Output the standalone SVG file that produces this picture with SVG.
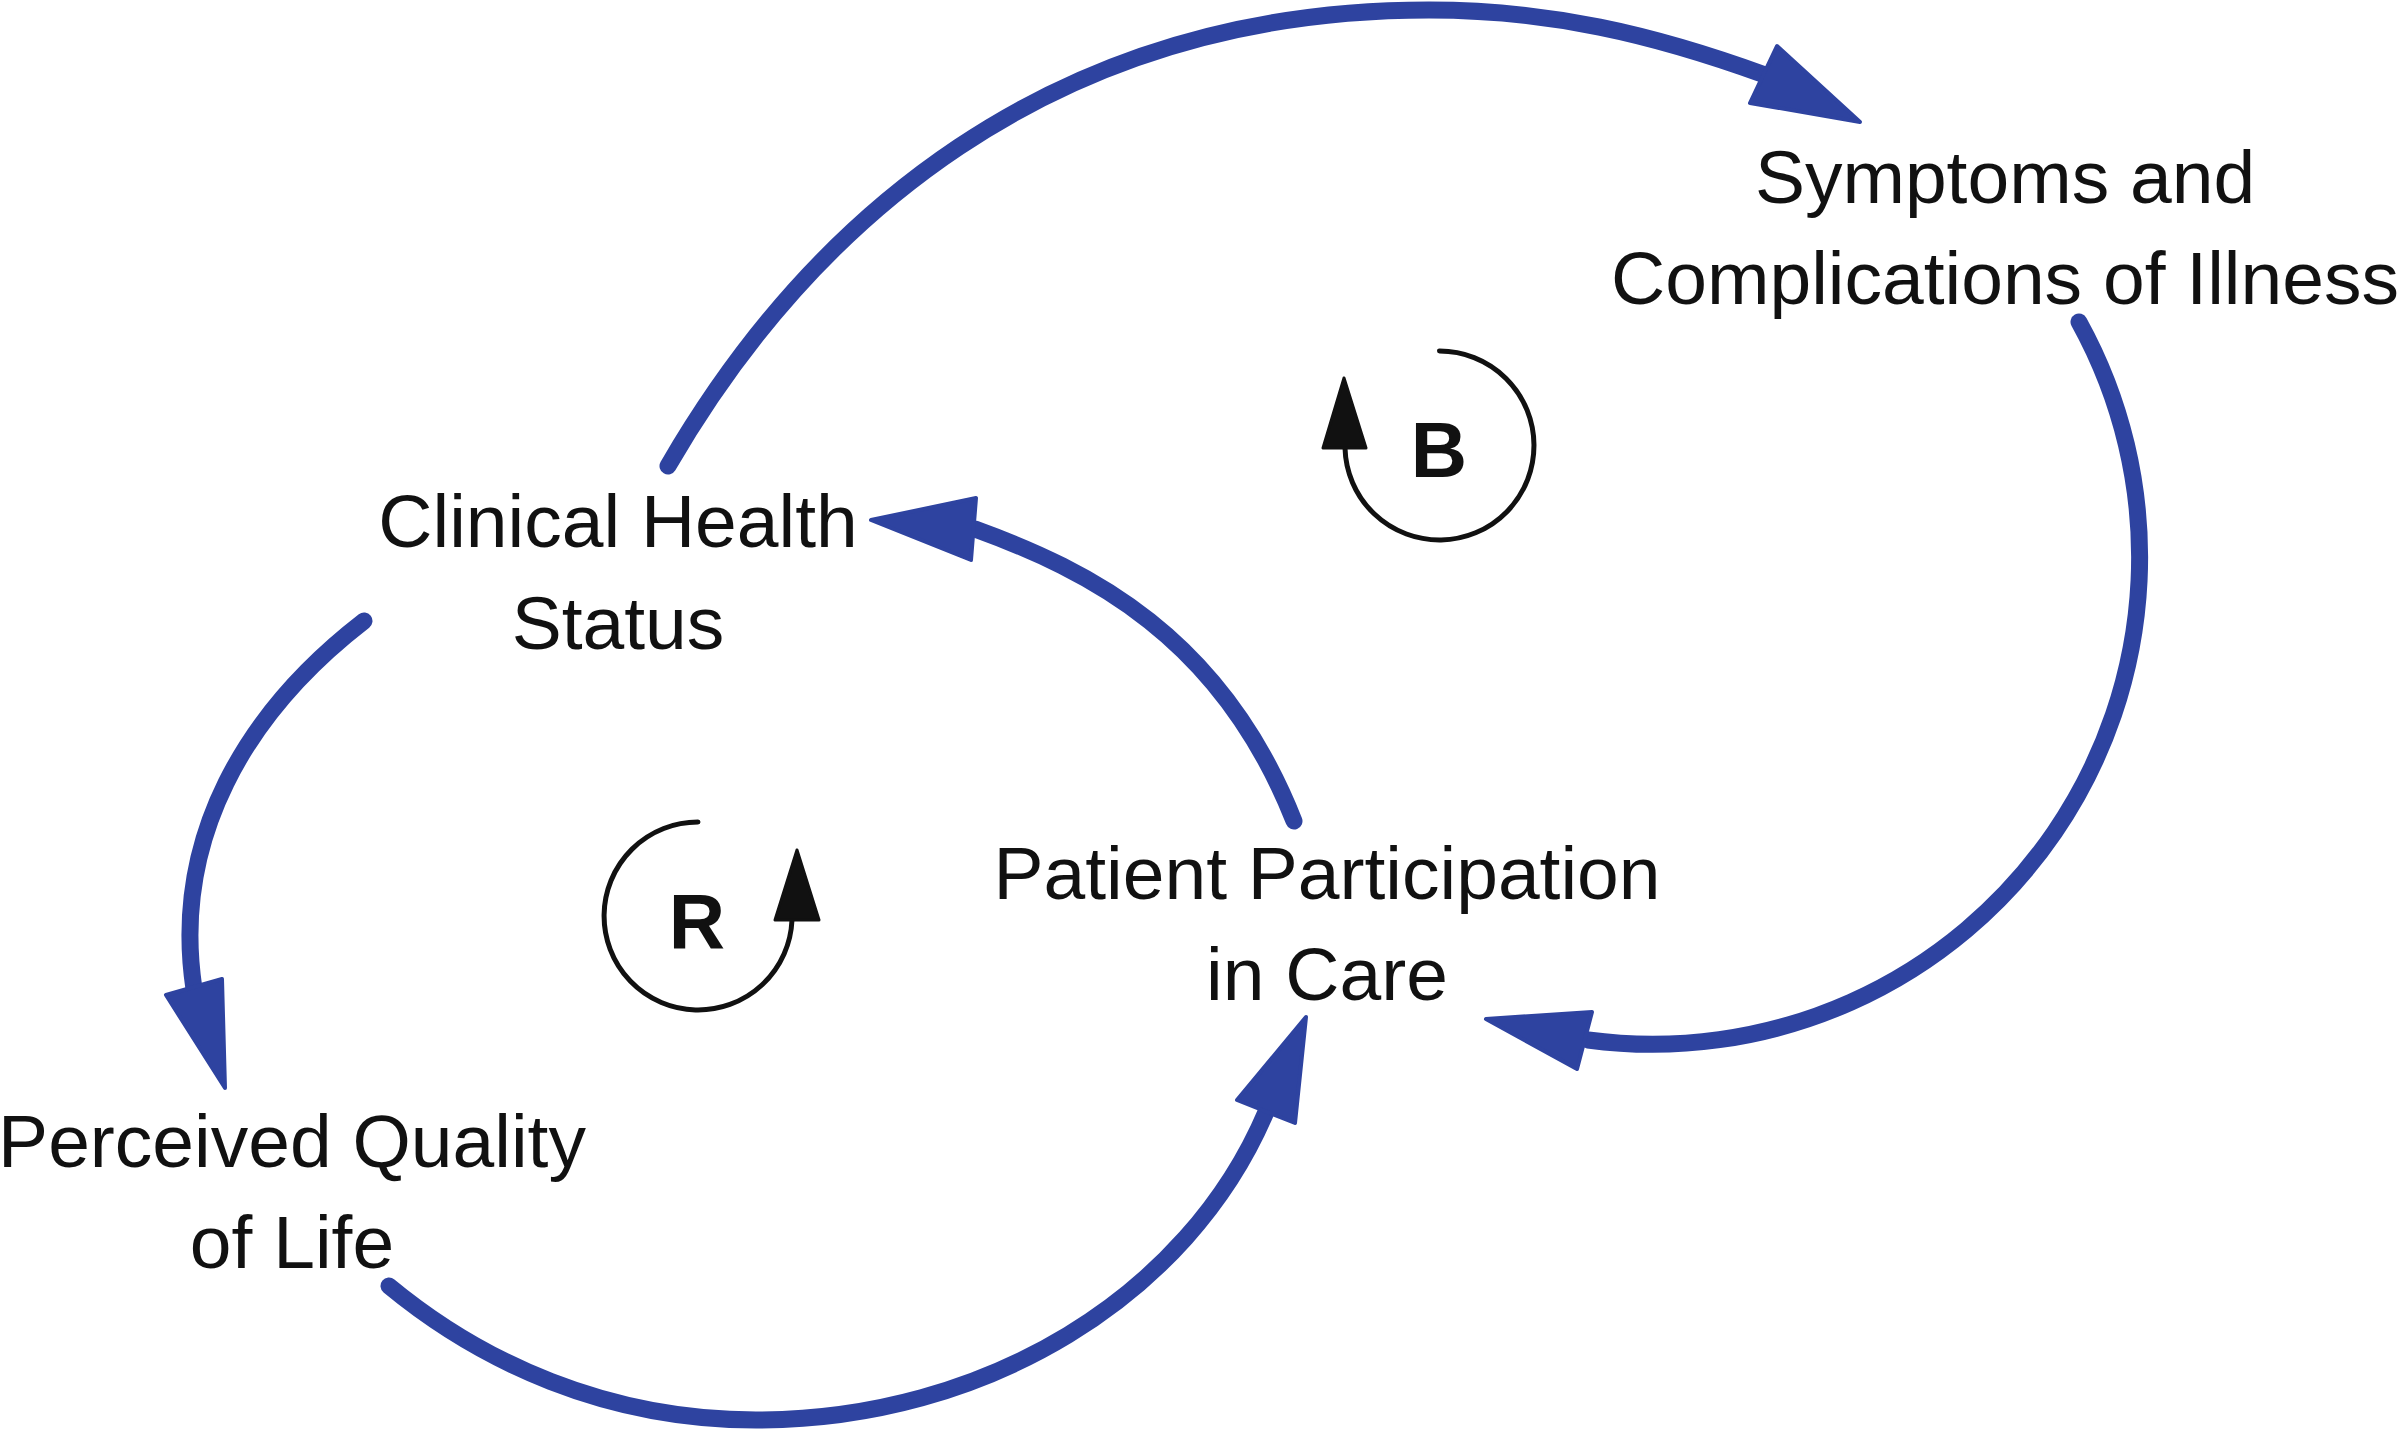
<svg xmlns="http://www.w3.org/2000/svg" width="2400" height="1433" viewBox="0 0 2400 1433">
<style>
.lbl{font-family:"Liberation Sans",Arial,Helvetica,sans-serif;font-size:75px;fill:#111;text-anchor:middle}
.loopl{font-family:"Liberation Sans",Arial,Helvetica,sans-serif;font-size:78px;font-weight:bold;fill:#111;text-anchor:middle}
.link{fill:none;stroke:#2E43A0;stroke-width:17;stroke-linecap:round}
.head{fill:#2E43A0;stroke:#2E43A0;stroke-width:4;stroke-linejoin:round}
.loop{fill:none;stroke:#111;stroke-width:5;stroke-linecap:round}
.lhead{fill:#111;stroke:#111;stroke-width:3;stroke-linejoin:round}
</style>
<rect width="2400" height="1433" fill="#fff"/>
<g id="connectors">
<path class="link" d="M668 466 C809 223 1049 10 1429 10 C1549 10 1652 34 1765 75"/>
<polygon class="head" points="1860,122 1777,46 1750,103"/>
<path class="link" d="M2079 322 A487 487 0 0 1 1588 1040"/>
<polygon class="head" points="1486,1019 1592,1012 1577,1069"/>
<path class="link" d="M1294 821 C1221 636 1088 570 975 529"/>
<polygon class="head" points="871,520 976,498 971,560"/>
<path class="link" d="M364 621 C245.5 712.5 171.5 838.5 194 989"/>
<polygon class="head" points="225,1088 166,995 222,979"/>
<path class="link" d="M389 1286 C481 1362 606 1420 756 1420 C986 1420 1188 1296 1266 1112"/>
<polygon class="head" points="1306,1017 1237,1100 1295,1123"/>
</g>
<g id="node-symptoms">
<text class="lbl" x="2005" y="203">Symptoms and</text>
<text class="lbl" x="2005" y="304">Complications of Illness</text>
</g>
<g id="node-clinical">
<text class="lbl" x="618" y="547">Clinical Health</text>
<text class="lbl" x="618" y="649">Status</text>
</g>
<g id="node-participation">
<text class="lbl" x="1327" y="899">Patient Participation</text>
<text class="lbl" x="1327" y="1000">in Care</text>
</g>
<g id="node-quality">
<text class="lbl" x="292" y="1167">Perceived Quality</text>
<text class="lbl" x="292" y="1268">of Life</text>
</g>
<g id="loop-B">
<path class="loop" d="M1439.5 351 A94.5 94.5 0 1 1 1345 448"/>
<polygon class="lhead" points="1344,378 1323,448 1366,448"/>
<text class="loopl" x="1439" y="477">B</text>
</g>
<g id="loop-R">
<path class="loop" d="M698 822 A94 94 0 1 0 792 920"/>
<polygon class="lhead" points="797,850 775,920 819,920"/>
<text class="loopl" x="697" y="948">R</text>
</g>
</svg>
